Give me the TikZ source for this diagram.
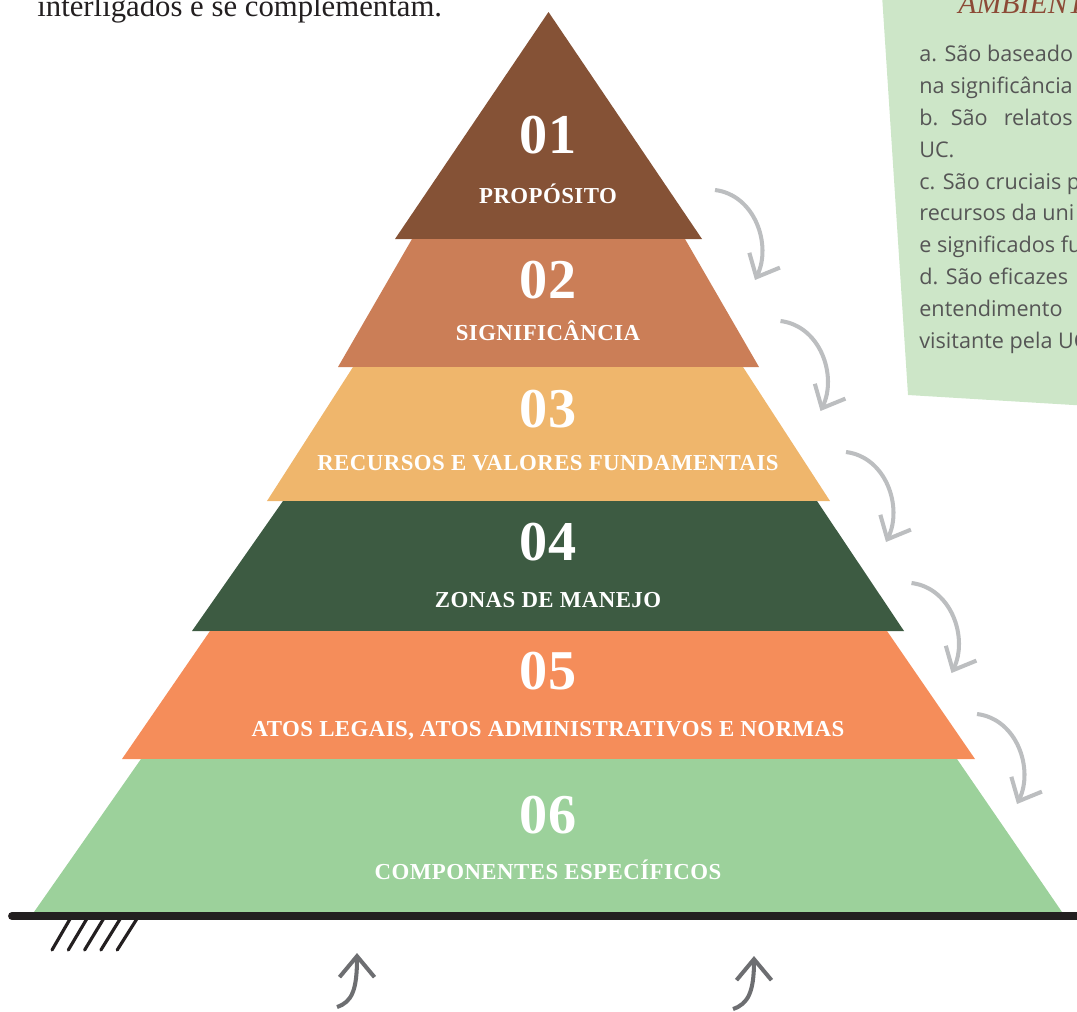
\documentclass[tikz,border=0pt]{standalone}
\usepackage{fontspec}
\setmainfont{Liberation Serif}
\newfontfamily\caixafont{Open Sans}
\usetikzlibrary{arrows.meta}

\definecolor{lag1}{HTML}{855236}
\definecolor{lag2}{HTML}{CB7E57}
\definecolor{lag3}{HTML}{EFB66C}
\definecolor{lag4}{HTML}{3D5B42}
\definecolor{lag5}{HTML}{F58D5A}
\definecolor{lag6}{HTML}{9CD19B}
\definecolor{chao}{HTML}{231F20}
\definecolor{setaclara}{HTML}{BCBEC0}
\definecolor{setaescura}{HTML}{6D6E71}
\definecolor{caixa}{HTML}{CDE6C8}
\definecolor{textocaixa}{HTML}{555555}
\definecolor{titulocaixa}{HTML}{8C4A36}

\begin{document}
\begin{tikzpicture}[x=0.02cm, y=-0.02cm,
  num/.style={text=white, anchor=base, inner sep=0pt, font=\bfseries\fontsize{32}{32}\selectfont},
  rot/.style={text=white, anchor=base, inner sep=0pt, font=\bfseries\fontsize{13}{13}\selectfont\addfontfeature{LetterSpace=2}},
  linha/.style={anchor=base west, inner sep=0pt, text=textocaixa, font=\caixafont\fontsize{12.3}{12.3}\selectfont},
  seta/.style={setaclara, line width=2.3pt, -{Straight Barb[length=0.38cm, width=0.68cm]}},
  setab/.style={setaescura, line width=2.3pt, -{Straight Barb[length=0.42cm, width=0.7cm]}},
  hach/.style={chao, line width=1.8pt, line cap=round}]

  \clip (0,0) rectangle (1077,1011);

  % texto acima
	\node[anchor=base west, inner sep=0pt, text=chao, font=\fontsize{17.5}{17.5}\selectfont] (frase) at (37,16) {interligados e se complementam.};

  % caixa verde
	\fill[caixa] (882,-5) -- (908,395) -- (1090,406) -- (1090,-5) -- cycle;
	\node[anchor=base west, inner sep=0pt, text=titulocaixa, font=\itshape\fontsize{17}{17}\selectfont] (titulo) at (958,13) {AMBIENT};
	\node[linha] (c1) at (919,61) {a. São baseado};
	\node[linha] (c2) at (919,93) {na significância};
	\node[linha] (c3) at (919,125) {b.\hspace{0.25cm}São\hspace{0.32cm}relatos};
	\node[linha] (c4) at (919,157) {UC.};
	\node[linha] (c5) at (919,189) {c. São cruciais p};
	\node[linha] (c6) at (919,220) {recursos da uni};
	\node[linha] (c7) at (919,252) {e significados fu};
	\node[linha] (c8) at (919,284) {d. São eficazes};
	\node[linha] (c9) at (919,316) {entendimento};
	\node[linha] (c10) at (919,348) {visitante pela UC};

  % piramide
	\fill[lag1] (548.5,12) -- (702,239) -- (395,239) -- cycle;
	\fill[lag2] (412,239) -- (685,239) -- (759,367) -- (338,367) -- cycle;
	\fill[lag3] (353,367) -- (743,367) -- (830,501) -- (267,501) -- cycle;
	\fill[lag4] (283,501) -- (817,501) -- (904,631) -- (192,631) -- cycle;
	\fill[lag5] (210,631) -- (887,631) -- (975,759) -- (122,759) -- cycle;
	\fill[lag6] (141,759) -- (957,759) -- (1062,912) -- (34,912) -- cycle;

  % numeros e titulos
	\node[num] (n1) at (548,153) {01};
	\node[rot] (r1) at (548,203) {PROPÓSITO};
	\node[num] (n2) at (548,298) {02};
	\node[rot] (r2) at (548,340) {SIGNIFICÂNCIA};
	\node[num] (n3) at (548,427) {03};
	\node[rot] (r3) at (548,470) {RECURSOS E VALORES FUNDAMENTAIS};
	\node[num] (n4) at (548,560) {04};
	\node[rot] (r4) at (548,607) {ZONAS DE MANEJO};
	\node[num] (n5) at (548,689) {05};
	\node[rot] (r5) at (548,736) {ATOS LEGAIS, ATOS ADMINISTRATIVOS E NORMAS};
	\node[num] (n6) at (548,833) {06};
	\node[rot] (r6) at (548,879) {COMPONENTES ESPECÍFICOS};

  % setas a direita
	\foreach \i in {0,...,4}
		\draw[seta, shift={(715+65.5*\i,190+131*\i)}] (0,0) .. controls (40,5) and (57,55) .. (40,90);

  % chao
	\foreach \i in {0,...,4}
		\draw[hach] (52+16.3*\i,950) -- (70+16.7*\i,919);
	\draw[chao, line width=4.5pt, line cap=round] (12,916) -- (1100,916);

  % setas de baixo
	\draw[setab] (337,1007) .. controls (352,1002) and (357,990) .. (357,953);
	\draw[setab] (733,1009) .. controls (748,1004) and (754,992) .. (754,956);

\end{tikzpicture}
\end{document}
